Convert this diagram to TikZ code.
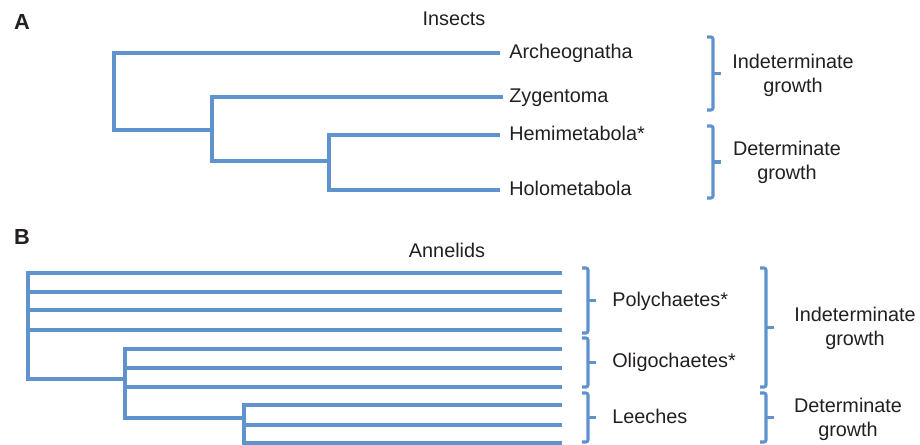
\documentclass[tikz,border=0pt]{standalone}
\usepackage{fontspec}
\setmainfont{Liberation Sans}
\definecolor{treeblue}{RGB}{96,146,205}
\definecolor{inkgray}{RGB}{35,31,32}
\tikzset{
  branch/.style={line width=2.2pt, draw=treeblue},
  bracket/.style={line width=2.2pt, draw=treeblue, rounded corners=1.5pt},
  taxon/.style={anchor=west, inner sep=0pt, text height=0.72em, text depth=0pt, text=inkgray},
  growth/.style={align=center, inner sep=0pt, text=inkgray},
  paneltitle/.style={inner sep=0pt, text=inkgray},
  panelletter/.style={inner sep=0pt, font=\fontsize{15.5}{18}\selectfont\bfseries, text=inkgray},
}
\newcommand{\grbrace}[3]{%
  \draw[bracket] (#1,#2) -- ++(6,0) |- (#1,#3);
  \draw[branch] ({#1+6},{(#2+#3)/2}) -- ++(8,0);
}

\begin{document}
\begin{tikzpicture}[x=0.025cm, y=-0.025cm, font=\fontsize{14.1}{17.1}\selectfont]
\useasboundingbox (0,0) rectangle (920,445);
% panel A
\node[panelletter] (letA) at (22,22) {A};
\node[paneltitle] (insects) at (454,19) {Insects};
\coordinate (arch) at (500,53);
\coordinate (zyg) at (503,97);
\coordinate (hemi) at (500,135);
\coordinate (holo) at (500,190);
\coordinate (rootA) at (114,130);
\coordinate (nA2) at (212,130);
\coordinate (nA3) at (329,161);
\draw[branch] (arch) -| (rootA) -- (nA2);
\draw[branch] (zyg) -| (nA2) |- (nA3);
\draw[branch] (hemi) -| (nA3) |- (holo);
\node[taxon] (archlabel) at (509,53) {Archeognatha};
\node[taxon] (zyglabel) at (509,97) {Zygentoma};
\node[taxon] (hemilabel) at (509,135) {Hemimetabola*};
\node[taxon] (hololabel) at (509,190) {Holometabola};
\grbrace{707}{37}{110}
\grbrace{707}{126}{198}
\node[growth] (indetA) at (793,75) {Indeterminate\\growth};
\node[growth] (detA) at (787,162) {Determinate\\growth};
% panel B
\node[panelletter] (letB) at (22,237) {B};
\node[paneltitle] (annelids) at (447,250) {Annelids};
\foreach \y [count=\i] in {273,292,310,330,349,368,387,405,425,443}
  \coordinate (b\i) at (562,\y);
\coordinate (rootB) at (28,379);
\coordinate (nB2) at (125,379);
\coordinate (nB3) at (244,418);
\draw[branch] (b1) -| (rootB) -- (nB2);
\foreach \i in {2,3,4}
  \draw[branch] (b\i) -- (b\i -| rootB);
\draw[branch] (b5) -| (nB2) |- (nB3);
\foreach \i in {6,7}
  \draw[branch] (b\i) -- (b\i -| nB2);
\draw[branch] (b8) -| (nB3) |- (b10);
\draw[branch] (b9) -- (b9 -| nB3);
\grbrace{582}{268}{333}
\grbrace{582}{338}{387}
\grbrace{582}{393}{442}
\node[taxon] (poly) at (612,301) {Polychaetes*};
\node[taxon] (oligo) at (612,362) {Oligochaetes*};
\node[taxon] (leech) at (612,418) {Leeches};
\grbrace{760}{268}{387}
\grbrace{760}{393}{442}
\node[growth] (indetB) at (855,328) {Indeterminate\\growth};
\node[growth] (detB) at (848,419) {Determinate\\growth};
\end{tikzpicture}
\end{document}
